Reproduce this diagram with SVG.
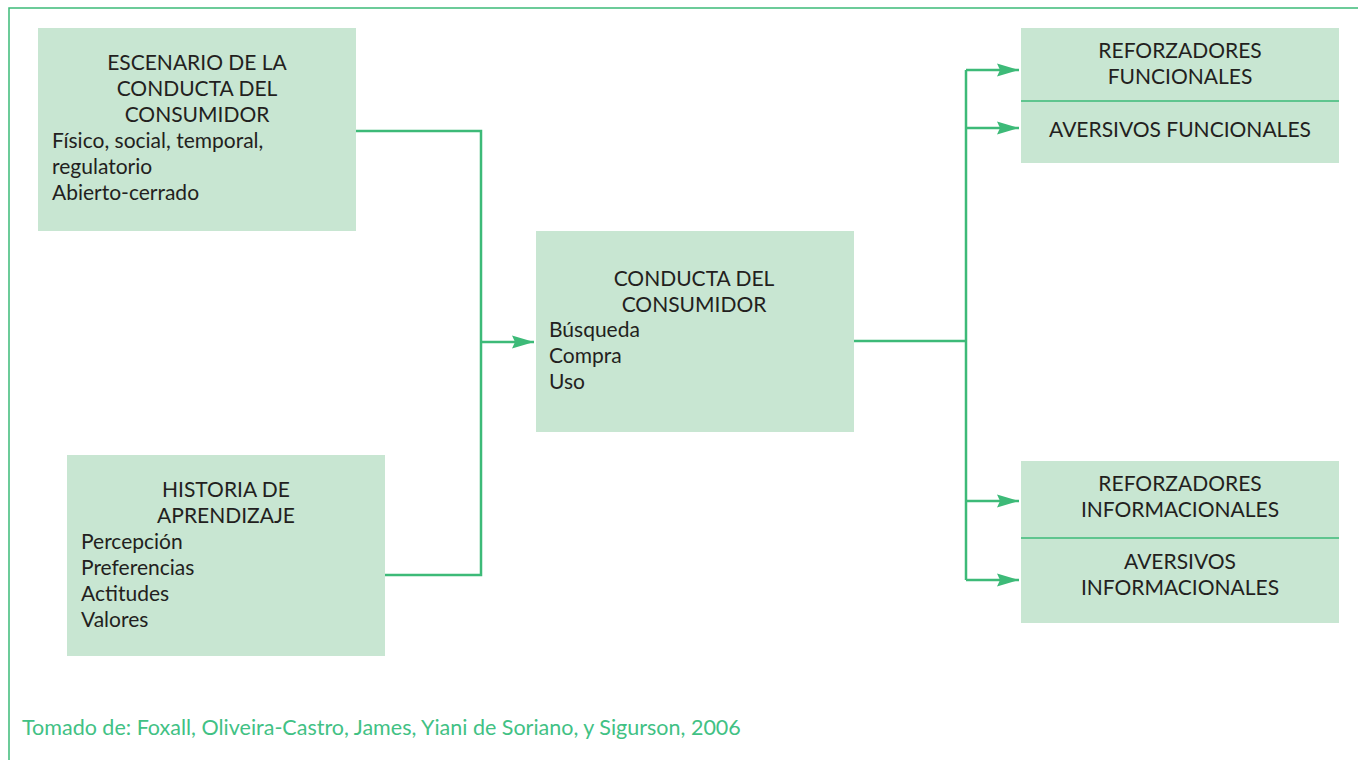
<svg xmlns="http://www.w3.org/2000/svg" width="1358" height="760" viewBox="0 0 1358 760">
<style>
.box{fill:#c8e6d2}
.t{font-family:"Lato","Liberation Sans",sans-serif;font-size:21px;fill:#231f20}
.c{text-anchor:middle}
.ln{stroke:#3dba78;stroke-width:2.5;fill:none}
.div{stroke:#3dba78;stroke-width:1.5}
.foot{font-family:"Lato","Liberation Sans",sans-serif;font-size:21.5px;fill:#41c184}
</style>
<defs>
<marker id="ah" viewBox="0 0 22 14" refX="22" refY="7" markerWidth="22" markerHeight="14" markerUnits="userSpaceOnUse" orient="auto">
<path d="M0,0.5 L22,7 L0,13.5 L3,7 Z" fill="#3dba78"/>
</marker>
</defs>
<rect width="1358" height="760" fill="#ffffff"/>
<path d="M9,760 V8 H1358" stroke="#3dba78" stroke-width="1.5" fill="none"/>

<g id="escenario">
<rect class="box" x="38" y="28" width="318" height="203"/>
<text class="t c" x="197" y="70">ESCENARIO DE LA</text>
<text class="t c" x="197" y="96">CONDUCTA DEL</text>
<text class="t c" x="197" y="122">CONSUMIDOR</text>
<text class="t" x="52" y="148">Físico, social, temporal,</text>
<text class="t" x="52" y="174">regulatorio</text>
<text class="t" x="52" y="200">Abierto-cerrado</text>
</g>

<g id="historia">
<rect class="box" x="67" y="455" width="318" height="201"/>
<text class="t c" x="226" y="497">HISTORIA DE</text>
<text class="t c" x="226" y="523">APRENDIZAJE</text>
<text class="t" x="81" y="549">Percepción</text>
<text class="t" x="81" y="575">Preferencias</text>
<text class="t" x="81" y="601">Actitudes</text>
<text class="t" x="81" y="627">Valores</text>
</g>

<g id="conducta">
<rect class="box" x="536" y="231" width="318" height="201"/>
<text class="t c" x="694" y="286">CONDUCTA DEL</text>
<text class="t c" x="694" y="312">CONSUMIDOR</text>
<text class="t" x="549" y="337">Búsqueda</text>
<text class="t" x="549" y="363">Compra</text>
<text class="t" x="549" y="389">Uso</text>
</g>

<g id="funcionales">
<rect class="box" x="1021" y="28" width="318" height="135"/>
<line class="div" x1="1021" y1="101" x2="1339" y2="101"/>
<text class="t c" x="1180" y="58">REFORZADORES</text>
<text class="t c" x="1180" y="84">FUNCIONALES</text>
<text class="t c" x="1180" y="137">AVERSIVOS FUNCIONALES</text>
</g>

<g id="informacionales">
<rect class="box" x="1021" y="461" width="318" height="162"/>
<line class="div" x1="1021" y1="538" x2="1339" y2="538"/>
<text class="t c" x="1180" y="491">REFORZADORES</text>
<text class="t c" x="1180" y="517">INFORMACIONALES</text>
<text class="t c" x="1180" y="569">AVERSIVOS</text>
<text class="t c" x="1180" y="595">INFORMACIONALES</text>
</g>

<g id="connectors">
<path class="ln" d="M356,131 H481 V575 H385"/>
<path class="ln" d="M481,342 H534" marker-end="url(#ah)"/>
<path class="ln" d="M854,341 H966"/>
<path class="ln" d="M966,70 V580"/>
<path class="ln" d="M966,70 H1019" marker-end="url(#ah)"/>
<path class="ln" d="M966,128 H1019" marker-end="url(#ah)"/>
<path class="ln" d="M966,501 H1019" marker-end="url(#ah)"/>
<path class="ln" d="M966,580 H1019" marker-end="url(#ah)"/>
</g>

<text class="foot" x="22" y="735">Tomado de: Foxall, Oliveira-Castro, James, Yiani de Soriano, y Sigurson, 2006</text>
</svg>
